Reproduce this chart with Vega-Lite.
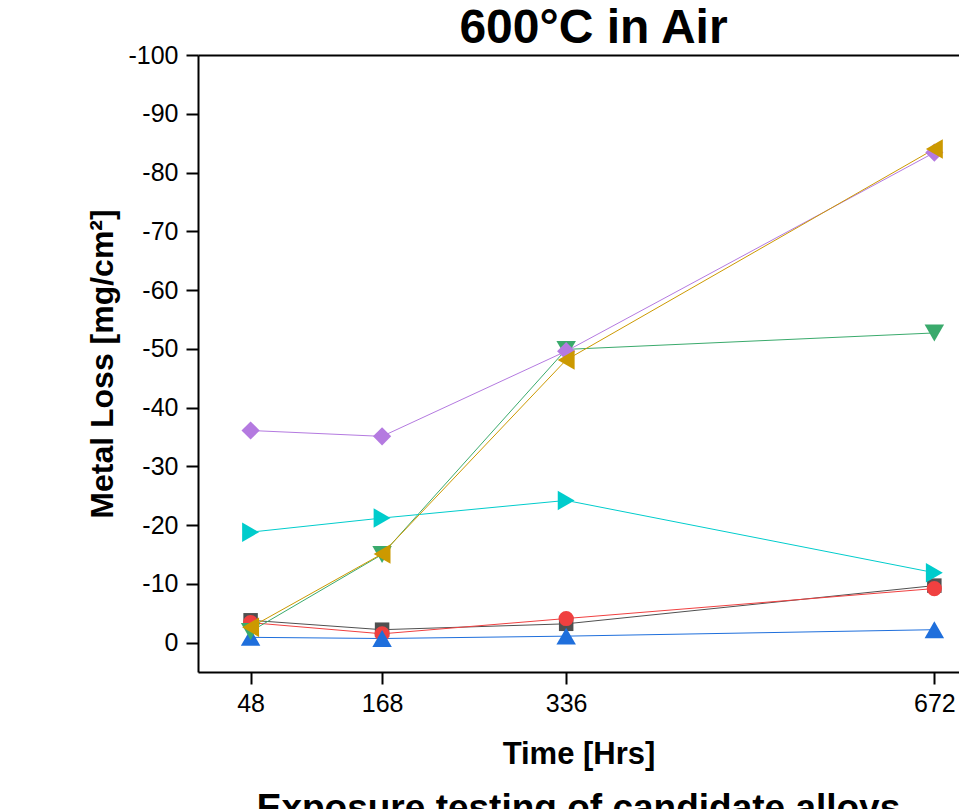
{
  "$schema": "https://vega.github.io/schema/vega-lite/v6.json",
  "width": 761,
  "height": 617,
  "autosize": {"type": "none"},
  "padding": {"left": 198, "top": 55, "right": 0, "bottom": 137},
  "background": "white",
  "config": {"view": {"stroke": null}, "font": "Liberation Sans"},
  "title": {"text": "Exposure testing of candidate alloys", "orient": "bottom", "anchor": "middle", "fontSize": 37, "fontWeight": "bold", "font": "Liberation Sans", "color": "black", "offset": 22},
  "data": {"values": [
    {"series": "S1", "time": 48, "loss": -3.8},
    {"series": "S1", "time": 168, "loss": -2.2},
    {"series": "S1", "time": 336, "loss": -3.2},
    {"series": "S1", "time": 672, "loss": -9.7},
    {"series": "S2", "time": 48, "loss": -3.4},
    {"series": "S2", "time": 168, "loss": -1.5},
    {"series": "S2", "time": 336, "loss": -4.1},
    {"series": "S2", "time": 672, "loss": -9.2},
    {"series": "S3", "time": 48, "loss": -0.9},
    {"series": "S3", "time": 168, "loss": -0.7},
    {"series": "S3", "time": 336, "loss": -1.1},
    {"series": "S3", "time": 672, "loss": -2.2},
    {"series": "S4", "time": 48, "loss": -1.9},
    {"series": "S4", "time": 168, "loss": -15.0},
    {"series": "S4", "time": 336, "loss": -49.9},
    {"series": "S4", "time": 672, "loss": -52.7},
    {"series": "S5", "time": 48, "loss": -36.1},
    {"series": "S5", "time": 168, "loss": -35.1},
    {"series": "S5", "time": 336, "loss": -49.6},
    {"series": "S5", "time": 672, "loss": -83.4},
    {"series": "S6", "time": 48, "loss": -18.8},
    {"series": "S6", "time": 168, "loss": -21.2},
    {"series": "S6", "time": 336, "loss": -24.2},
    {"series": "S6", "time": 672, "loss": -11.9},
    {"series": "S7", "time": 48, "loss": -2.6},
    {"series": "S7", "time": 168, "loss": -15.1},
    {"series": "S7", "time": 336, "loss": -48.1},
    {"series": "S7", "time": 672, "loss": -84.0}
  ]},
  "layer": [
    {
      "mark": {"type": "line", "strokeWidth": 1},
      "encoding": {
        "x": {"field": "time", "type": "quantitative", "scale": {"domain": [0, 694.5], "nice": false, "zero": false}, "axis": null},
        "y": {"field": "loss", "type": "quantitative", "scale": {"domain": [-100, 5], "reverse": true, "nice": false, "zero": false},
          "axis": {
            "values": [-100, -95, -90, -85, -80, -75, -70, -65, -60, -55, -50, -45, -40, -35, -30, -25, -20, -15, -10, -5, 0, 5],
            "labelExpr": "datum.value % 10 === 0 ? '' + datum.value : ''",
            "tickSize": {"condition": {"test": "datum.value % 10 === 0", "value": 12}, "value": 6},
            "tickWidth": 2, "tickColor": "black", "domainColor": "black", "domainWidth": 2,
            "labelFontSize": 25, "labelColor": "black", "labelFont": "Liberation Sans", "labelPadding": 8,
            "title": "Metal Loss [mg/cm²]", "titleFontSize": 32, "titleFontWeight": "bold", "titleColor": "black", "titleFont": "Liberation Sans", "titlePadding": 8,
            "grid": false
          }},
        "color": {"field": "series", "type": "nominal", "legend": null,
          "scale": {"domain": ["S1", "S2", "S3", "S4", "S5", "S6", "S7"], "range": ["#505050", "#f04040", "#1f6fdc", "#3aaa6c", "#b47ae0", "#00cccc", "#cc9900"]}}
      }
    },
    {
      "mark": {"type": "point", "filled": true, "opacity": 1},
      "encoding": {
        "x": {"field": "time", "type": "quantitative",
          "axis": {
            "values": [48, 168, 336, 672], "tickSize": 12, "tickWidth": 2, "tickColor": "black", "domainColor": "black", "domainWidth": 2,
            "labelFontSize": 25, "labelColor": "black", "labelFont": "Liberation Sans", "labelPadding": 7,
            "title": "Time [Hrs]", "titleFontSize": 31, "titleFontWeight": "bold", "titleColor": "black", "titleFont": "Liberation Sans", "titlePadding": 23,
            "grid": false
          }},
        "y": {"field": "loss", "type": "quantitative"},
        "color": {"field": "series", "type": "nominal", "legend": null},
        "shape": {"field": "series", "type": "nominal", "legend": null,
          "scale": {"domain": ["S1", "S2", "S3", "S4", "S5", "S6", "S7"], "range": ["square", "circle", "triangle-up", "triangle-down", "diamond", "triangle-right", "triangle-left"]}},
        "size": {"field": "series", "type": "ordinal", "legend": null,
          "scale": {"type": "ordinal", "domain": ["S1", "S2", "S3", "S4", "S5", "S6", "S7"], "range": [210, 230, 380, 380, 330, 380, 380]}}
      }
    },
    {
      "mark": {"type": "point", "opacity": 0},
      "encoding": {
        "x": {"field": "time", "type": "quantitative",
          "axis": {
            "orient": "top", "ticks": false, "labels": false, "domainColor": "black", "domainWidth": 2, "grid": false,
            "title": "600°C in Air", "titleFontSize": 48, "titleFontWeight": "bold", "titleColor": "black", "titleFont": "Liberation Sans",
            "titleX": 395, "titleBaseline": "alphabetic", "titlePadding": 13
          }}
      }
    }
  ],
  "resolve": {"axis": {"x": "independent"}}
}
